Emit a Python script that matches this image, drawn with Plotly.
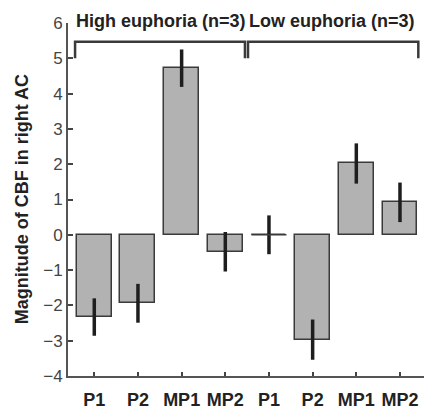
import plotly.graph_objects as go

categories = ["P1", "P2", "MP1", "MP2", "P1", "P2", "MP1", "MP2"]
values = [-2.33, -1.94, 4.72, -0.48, 0.0, -2.97, 2.02, 0.92]
errors = [0.53, 0.55, 0.53, 0.56, 0.55, 0.57, 0.57, 0.56]
group_labels = ["High euphoria (n=3)", "Low euphoria (n=3)"]
group_spans = [(0.56, 4.45), (4.52, 8.42)]
y_ticks = [-4, -3, -2, -1, 0, 1, 2, 3, 4, 5, 6]

xpos = list(range(1, len(categories) + 1))

fig = go.Figure()
fig.add_trace(go.Bar(
    x=xpos, y=values, width=0.8,
    marker=dict(color="#b2b2b2", line=dict(color="#3a3a3a", width=1.5)),
    error_y=dict(type="data", array=errors, symmetric=True, thickness=3.5, width=0, color="#1e1e1e"),
    showlegend=False,
))

# zero-height bars drawn as a flat outline
for xi, v in zip(xpos, values):
    if v == 0:
        fig.add_trace(go.Scatter(x=[xi - 0.4, xi + 0.4], y=[v, v], mode="lines",
                                 line=dict(color="#3a3a3a", width=1.5), showlegend=False, hoverinfo="skip"))

# group brackets
for (a, b), lab in zip(group_spans, group_labels):
    fig.add_trace(go.Scatter(x=[a, a, b, b], y=[5.0, 5.47, 5.47, 5.0], mode="lines",
                             line=dict(color="#3a3a3a", width=2.5), showlegend=False, hoverinfo="skip",
                             cliponaxis=False))
    fig.add_annotation(x=a, y=1.006, xref="x", yref="paper", text="<b>%s</b>" % lab, showarrow=False,
                       xanchor="left", yanchor="middle", xshift=-1,
                       font=dict(family="Liberation Sans, Arial", size=18, color="#222"))

fig.add_annotation(xref="paper", yref="paper", x=-0.13, y=0.5, text="<b>Magnitude of CBF in right AC</b>",
                   textangle=-90, showarrow=False, xanchor="center", yanchor="middle",
                   font=dict(family="Liberation Sans, Arial", size=18, color="#222"))

fig.update_layout(
    width=424, height=410,
    margin=dict(l=68, r=0, t=23, b=31),
    plot_bgcolor="white", paper_bgcolor="white",
    bargap=0,
)
fig.update_xaxes(range=[0.398, 8.55], tickmode="array", tickvals=xpos, ticktext=["<b>%s</b>" % c for c in categories],
                 ticks="inside", ticklen=4, tickwidth=2, tickcolor="#444", ticklabelstandoff=6,
                 showline=True, linecolor="#555", linewidth=2, showgrid=False, zeroline=False,
                 tickfont=dict(family="Liberation Sans, Arial", size=18, color="#222"))
fig.update_yaxes(range=[-4, 6], tickmode="array", tickvals=y_ticks,
                 ticktext=[("\u2212%d" % -t) if t < 0 else str(t) for t in y_ticks],
                 ticks="inside", ticklen=5, tickwidth=2, tickcolor="#444",
                 showline=True, linecolor="#555", linewidth=2, showgrid=False, zeroline=False,
                 tickfont=dict(family="Liberation Sans, Arial", size=17, color="#444"))

fig.write_html("out.html", config={"displayModeBar": False},
               post_script="document.body.style.margin='0';document.body.style.overflow='hidden';")
